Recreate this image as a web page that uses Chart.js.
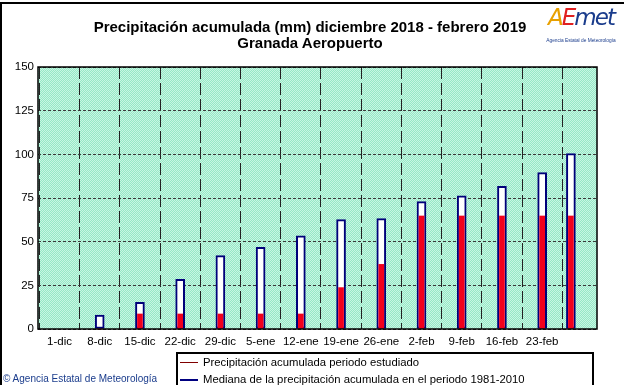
<!DOCTYPE html>
<html>
<head>
<meta charset="utf-8">
<script src="https://cdn.jsdelivr.net/npm/chart.js@4"></script>
<style>
  body { margin: 0; background: #fff; }
  #wrap { position: relative; width: 624px; height: 385px; overflow: hidden; font-family: "Liberation Sans", Arial, sans-serif; }
  #frame { position: absolute; left: 0; top: 2px; width: 640px; height: 400px; border-top: 2px solid #000; border-left: 2px solid #000; box-sizing: border-box; }
  #title { position: absolute; left: 0; width: 620px; top: 19px; text-align: center; font-weight: bold; font-size: 15px; line-height: 16px; color: #000; }
  #logo { position: absolute; left: 544px; top: 2px; width: 74px; text-align: center; }
  #logo .mark { font-family: "DejaVu Sans", sans-serif; font-weight: 200; font-style: italic; font-size: 23px; line-height: 30px; letter-spacing: -2px; }
  #logo .sub { font-size: 4.8px; color: #1a3c8c; margin-top: 6px; white-space: nowrap; }
  #legend { position: absolute; left: 176px; top: 352px; width: 418px; height: 60px; border: 2px solid #000; box-sizing: border-box; font-size: 11.3px; }
  #legend .row { position: absolute; left: 0; height: 16px; line-height: 16px; }
  #legend .ln { position: absolute; left: 2px; width: 18px; height: 0; top: 8px; }
  #legend .tx { position: absolute; left: 25px; white-space: nowrap; }
  #copy { position: absolute; left: 3px; top: 373px; font-size: 10px; color: #1a3c8c; white-space: nowrap; }
</style>
</head>
<body>
<div id="wrap">
  <canvas id="rainChart" width="624" height="385"></canvas>
  <div id="frame"></div>
  <div id="title">Precipitación acumulada (mm) diciembre 2018 - febrero 2019<br>Granada Aeropuerto</div>
  <div id="logo">
    <div class="mark"><span style="color:#e8a000">A</span><span style="color:#e02020">E</span><span style="color:#1a3c8c">met</span></div>
    <div class="sub">Agencia Estatal de Meteorología</div>
  </div>
  <div id="legend">
    <div class="row" style="top:0px"><div class="ln" style="border-top:1px solid #800000"></div><div class="tx">Precipitación acumulada periodo estudiado</div></div>
    <div class="row" style="top:17px"><div class="ln" style="border-top:2px solid #000080"></div><div class="tx">Mediana de la precipitación acumulada en el periodo 1981-2010</div></div>
  </div>
  <div id="copy">© Agencia Estatal de Meteorología</div>
</div>
<script>
// tick labels, one per week starting 1-dic (day 0)
const weekLabels = ['1-dic', '8-dic', '15-dic', '22-dic', '29-dic', '5-ene', '12-ene', '19-ene', '26-ene', '2-feb', '9-feb', '16-feb', '23-feb'];
// day of the period for every bar (28-feb = day 89)
const barDays = [7, 14, 21, 28, 35, 42, 49, 56, 63, 70, 77, 84, 89];
// median accumulated rain 1981-2010 (mm)
const medianValues = [8.0, 15.3, 28.4, 42.0, 46.8, 53.4, 62.6, 63.2, 72.9, 76.3, 81.7, 89.5, 100.4];
// accumulated rain in the studied period (mm)
const studiedValues = [0, 8.6, 8.6, 8.6, 8.6, 8.6, 23.7, 37.0, 64.7, 64.7, 64.7, 64.7, 64.7];

function makePattern() {
    const c = document.createElement('canvas');
    c.width = 2; c.height = 2;
    const p = c.getContext('2d');
    p.fillStyle = '#96e8c6'; p.fillRect(0, 0, 2, 2);
    p.fillStyle = '#c8f6e3'; p.fillRect(0, 0, 1, 1); p.fillRect(1, 1, 1, 1);
    return document.getElementById('rainChart').getContext('2d').createPattern(c, 'repeat');
}

const plotBackground = {
    id: 'plotBackground',
    beforeDraw(chart) {
        const a = chart.chartArea, ctx = chart.ctx;
        ctx.save();
        ctx.fillStyle = makePattern();
        ctx.fillRect(a.left, a.top, a.right - a.left, a.bottom - a.top);
        ctx.restore();
    },
    afterDatasetsDraw(chart) {
        const a = chart.chartArea, ctx = chart.ctx;
        ctx.save();
        ctx.strokeStyle = '#000';
        ctx.lineWidth = 1.5;
        ctx.strokeRect(a.left, a.top, a.right - a.left, a.bottom - a.top);
        ctx.restore();
    }
};

const ctx = document.getElementById('rainChart').getContext('2d');
const rainChart = new Chart(ctx, {
    type: 'bar',
    data: {
        datasets: [{
            label: 'Precipitación acumulada periodo estudiado',
            data: barDays.map((d, i) => ({ x: d, y: studiedValues[i] })),
            backgroundColor: '#f2001c',
            borderWidth: 0,
            barThickness: 5,
            grouped: false,
            clip: false
        }, {
            label: 'Mediana de la precipitación acumulada en el periodo 1981-2010',
            data: barDays.map((d, i) => ({ x: d, y: medianValues[i] })),
            backgroundColor: '#ffffff',
            borderColor: '#00007a',
            borderWidth: 2,
            borderSkipped: false,
            barThickness: 9,
            grouped: false,
            clip: false
        }]
    },
    options: {
        responsive: false,
        animation: false,
        layout: { padding: { left: 0, right: 27, top: 67, bottom: 0 } },
        plugins: { legend: { display: false }, tooltip: { enabled: false } },
        scales: {
            x: {
                type: 'linear',
                min: 0,
                max: 89.8,
                grid: { color: '#222', lineWidth: 1, drawTicks: false },
                border: { display: false, dash: [12, 4] },
                ticks: {
                    stepSize: 7,
                    includeBounds: false,
                    autoSkip: false,
                    maxRotation: 0,
                    padding: 6,
                    color: '#000',
                    font: { family: 'Liberation Sans', size: 11.5 },
                    callback: function(value) {
                        return value % 7 === 0 ? (weekLabels[value / 7] || '') : '';
                    }
                },
                afterFit: function(scale) { scale.height = 56; }
            },
            y: {
                min: 0,
                max: 150,
                grid: { color: '#3a3a3a', lineWidth: 1, drawTicks: false },
                border: { display: false, dash: [3, 2] },
                ticks: {
                    stepSize: 25,
                    padding: 4,
                    color: '#000',
                    font: { family: 'Liberation Sans', size: 11.5 }
                },
                afterFit: function(scale) { scale.width = 38; }
            }
        }
    },
    plugins: [plotBackground]
});
</script>
</body>
</html>
